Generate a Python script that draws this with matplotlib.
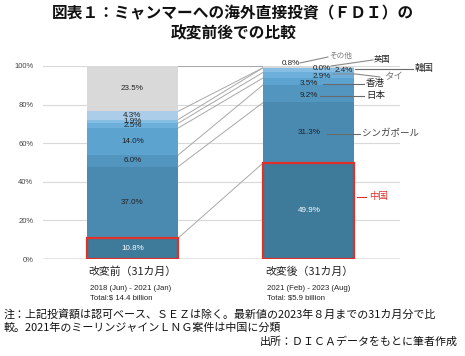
import matplotlib
matplotlib.use("Agg")
import matplotlib.pyplot as plt
from matplotlib.patches import Rectangle

plt.rcParams['font.family'] = ['Noto Sans CJK JP', 'DejaVu Sans']

# ---- data ----
countries = ['中国', 'シンガポール', '日本', '香港', 'タイ', '韓国', '英国', 'その他']
before = [10.8, 37.0, 6.0, 14.0, 2.5, 1.9, 4.3, 23.5]
after = [49.9, 31.3, 9.2, 3.5, 2.9, 2.4, 0.0, 0.8]
period_labels = ['改変前（31カ月）', '改変後（31カ月）']
period_ranges = ['2018 (Jun) - 2021 (Jan)', '2021 (Feb) - 2023 (Aug)']
period_totals = ['Total:$ 14.4 billion', 'Total: $5.9 billion']
yticks = [0, 20, 40, 60, 80, 100]
ytick_labels = ['0%', '20%', '40%', '60%', '80%', '100%']

colors = ['#3e7a9a', '#4a8ab1', '#5296c0', '#5ca3d0', '#6cafdb', '#86bde3', '#abcde9', '#d9d9d9']
NUMF = ['Liberation Sans', 'Noto Sans CJK JP']

fig = plt.figure(figsize=(4.65, 3.56), dpi=100)
ax = fig.add_axes([43/465, 1-259/356, (400-43)/465, (259-66)/356])
W = 0.516
ax.set_xlim(-0.507, 1.516)
ax.set_ylim(0, 100)

for y in yticks:
    ax.axhline(y, color='#d9d9d9' if y > 0 else '#808080', lw=0.8 if y > 0 else 1.0, zorder=0)

xs = [0, 1]
stacks = [before, after]
bottoms_all = []
for xi, vals in zip(xs, stacks):
    b = 0
    bots = []
    for v, c in zip(vals, colors):
        ax.bar(xi, v, bottom=b, width=W, color=c, edgecolor='none', zorder=2)
        bots.append(b)
        b += v
    bottoms_all.append(bots)

# connector lines between segment tops
for i in range(len(countries)):
    t0 = bottoms_all[0][i] + before[i]
    t1 = bottoms_all[1][i] + after[i]
    ax.plot([0 + W/2, 1 - W/2], [t0, t1], color='#a8a8a8', lw=0.7, zorder=1)

# red outline on China segments
for xi, vals in zip(xs, stacks):
    ax.add_patch(Rectangle((xi - W/2, 0), W, vals[0], fill=False, edgecolor='#e0302a', lw=1.6, zorder=4))

# labels in left bar
for i, v in enumerate(before):
    yc = bottoms_all[0][i] + v/2
    ax.text(0, yc, f'{v:.1f}%', ha='center', va='center', fontsize=5.8, family=NUMF,
            color='white' if i == 0 else '#222222', zorder=5)

# labels in right bar
def px(x):
    return (x - 132.5) / 176.5
def py(y):
    return (259 - y) / 1.93

rb = bottoms_all[1]
ax.text(1, rb[0] + after[0]/2, f'{after[0]:.1f}%', ha='center', va='center', fontsize=5.8, family=NUMF, color='white', zorder=5)
ax.text(1, rb[1] + after[1]/2, f'{after[1]:.1f}%', ha='center', va='center', fontsize=5.8, family=NUMF, color='#222222', zorder=5)
ax.text(1, py(96), f'{after[2]:.1f}%', ha='center', va='center', fontsize=5.8, family=NUMF, color='#222222', zorder=5)
ax.text(1, py(83.5), f'{after[3]:.1f}%', ha='center', va='center', fontsize=5.8, family=NUMF, color='#222222', zorder=5)
ax.text(px(322), py(77), f'{after[4]:.1f}%', ha='center', va='center', fontsize=5.8, family=NUMF, color='#222222', zorder=5)
ax.text(px(344), py(71), f'{after[5]:.1f}%', ha='center', va='center', fontsize=5.8, family=NUMF, color='#222222', zorder=5)
ax.text(px(322), py(69), f'{after[6]:.1f}%', ha='center', va='center', fontsize=5.8, family=NUMF, color='#222222', zorder=5)
ax.text(px(291), py(64), f'{after[7]:.1f}%', ha='center', va='center', fontsize=5.8, family=NUMF, color='#222222', zorder=5)

# leader lines and country names
LC = '#6a6a6a'
def lead(pts, color=LC):
    ax.plot([px(p[0]) for p in pts], [py(p[1]) for p in pts], color=color, lw=0.8, clip_on=False, zorder=5)
def name(x, y, s, color='#222222', fs=6.8):
    ax.text(px(x), py(y), s, ha='left', va='center', fontsize=fs, color=color, clip_on=False, zorder=5)

lead([(327, 134), (360, 134)]); name(362, 134, countries[1], color='#444444')
lead([(320, 96), (364, 96)]); name(366, 96, countries[2])
lead([(323, 84), (364, 84)]); name(366, 84, countries[3])
lead([(333, 74), (356, 74), (380, 77)], color='#8a8a8a'); name(384, 77, countries[4], color='#777777')
lead([(355, 69), (413, 69)]); name(415, 69, countries[5])
lead([(331, 66), (373, 60)], color='#8a8a8a'); name(374, 60, countries[6], fs=6.0)
lead([(300, 63), (328, 57)], color='#8a8a8a'); name(329, 56, countries[7], color='#777777', fs=5.5)
lead([(357, 197), (366, 197)], color='#e0302a'); name(369, 197, countries[0], color='#e0302a')

ax.set_xticks([])
ax.set_yticks(yticks)
ax.set_yticklabels(ytick_labels, family=NUMF, fontsize=5.5, color='#444444')
ax.tick_params(axis='y', length=0, pad=7)
for s in ax.spines.values():
    s.set_visible(False)

# category labels
for xi, lab, rng, tot in zip(xs, period_labels, period_ranges, period_totals):
    ax.text(xi, py(272), lab, ha='center', va='center', fontsize=7.8, color='#222222', clip_on=False)
    ax.text(xi - W/2 + 0.02, py(288), rng, ha='left', va='center', fontsize=5.6, family=NUMF, color='#222222', clip_on=False)
    ax.text(xi - W/2 + 0.02, py(297.5), tot, ha='left', va='center', fontsize=5.6, family=NUMF, color='#222222', clip_on=False)

# title
fig.text(233/465, 1-13.5/356, '図表１：ミャンマーへの海外直接投資（ＦＤＩ）の', ha='center', va='center',
         fontsize=11.3, fontweight='bold', color='#111111')
fig.text(234/465, 1-33/356, '政変前後での比較', ha='center', va='center',
         fontsize=11.3, fontweight='bold', color='#111111')

# notes
fig.text(4/465, 1-314/356, '注：上記投資額は認可ベース、ＳＥＺは除く。最新値の2023年８月までの31カ月分で比',
         ha='left', va='center', fontsize=7.9, color='#111111')
fig.text(4/465, 1-328/356, '較。2021年のミーリンジャインＬＮＧ案件は中国に分類',
         ha='left', va='center', fontsize=7.9, color='#111111')
fig.text(458/465, 1-342/356, '出所：ＤＩＣＡデータをもとに筆者作成',
         ha='right', va='center', fontsize=7.9, color='#111111')

fig.savefig('out.png', dpi=100, facecolor='white')
